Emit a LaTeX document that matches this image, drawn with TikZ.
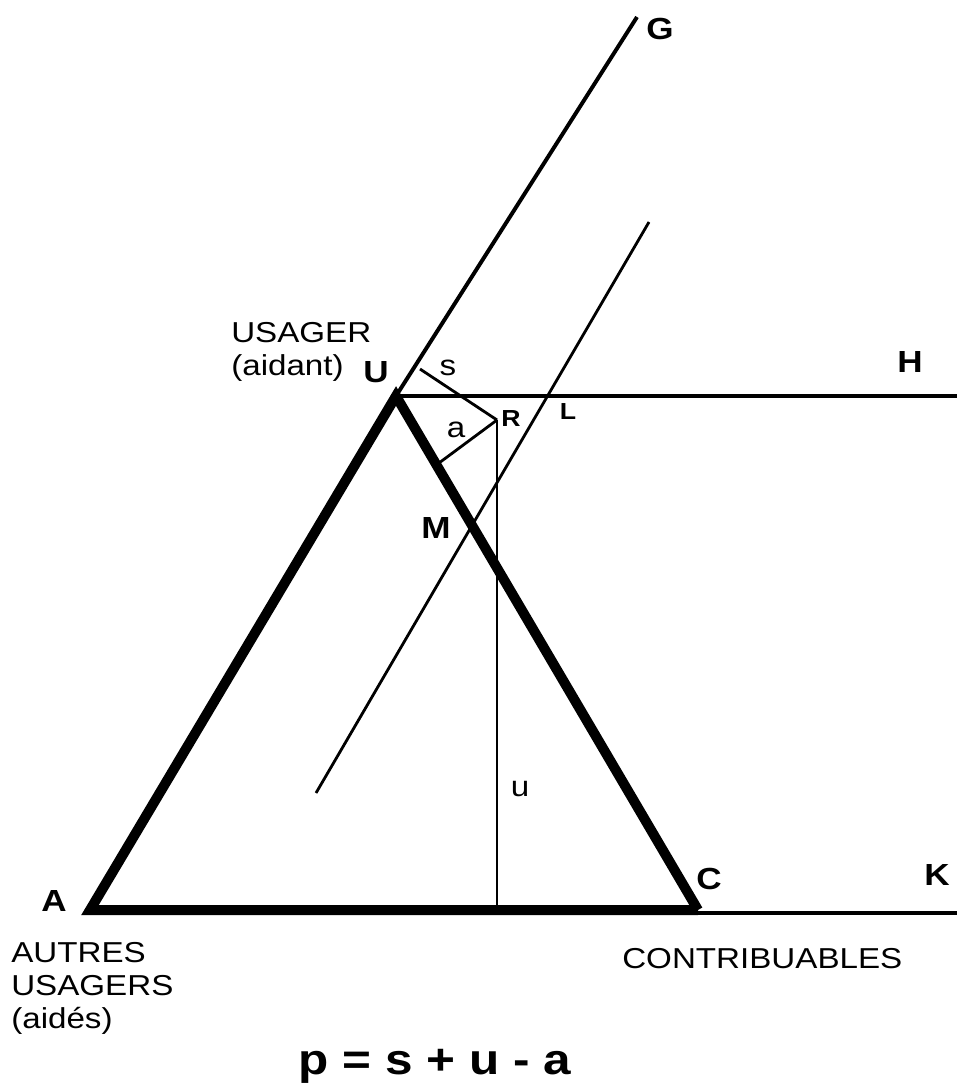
\documentclass[tikz,border=0pt]{standalone}
\usepackage{fontspec}
\setmainfont{Liberation Sans}[FakeStretch=1.15]
\usepackage{tikz}
\usetikzlibrary{calc}
\tikzset{
  sideline/.style={line width=7.1pt, line join=miter, line cap=butt},
  rayline/.style={line width=2.8pt},
  thinline/.style={line width=2pt},
  ptlabel/.style={inner sep=0pt, font=\fontsize{21.7}{26}\selectfont\bfseries},
  smallpt/.style={inner sep=0pt, font=\fontsize{16.5}{19}\selectfont\bfseries},
  seglabel/.style={inner sep=0pt, font=\fontsize{20.5}{23.5}\selectfont},
  roletext/.style={inner sep=0pt, anchor=north west, align=left,
    font=\fontsize{20.5}{23.5}\selectfont},
  formula/.style={inner sep=0pt, anchor=base, font=\fontsize{30.6}{36}\selectfont\bfseries}
}

\begin{document}
\begin{tikzpicture}[x=0.025cm, y=-0.025cm]
  \useasboundingbox (0,0) rectangle (957,1086);

  % points of the figure
  \coordinate (A) at (90,910);
  \coordinate (C) at (698,910);
  \coordinate (U) at (396,396);
  \coordinate (G) at (637,17);
  \coordinate (H) at (957,396);
  \coordinate (Cr) at (698,913);
  \coordinate (K) at (957,913);
  \coordinate (R) at (497,420);
  \coordinate (sfoot) at (420,369);
  \coordinate (afoot) at (439,463);
  \coordinate (ufoot) at (497,910);
  \coordinate (par1) at (316,793);
  \coordinate (par2) at (649,222);

  % rays and construction lines
  \draw[rayline] (U) -- (G);
  \draw[rayline] (U) -- (H);
  \draw[rayline] (Cr) -- (K);
  \draw[thinline] (R) -- (sfoot);
  \draw[thinline] (R) -- (afoot);
  \draw[thinline] (R) -- (ufoot);
  \draw[thinline] (par1) -- (par2);

  % triangle
  \draw[sideline] (C) -- (A) -- (U) -- (C);

  % point labels
  \node[ptlabel] (labG) at (660,29) {G};
  \node[ptlabel] (labU) at (376,372) {U};
  \node[ptlabel] (labH) at (910,362) {H};
  \node[ptlabel] (labM) at (436,528) {M};
  \node[ptlabel] (labA) at (54,901) {A};
  \node[ptlabel] (labC) at (709,879) {C};
  \node[ptlabel] (labK) at (937,875) {K};
  \node[smallpt] (labR) at (511,419) {R};
  \node[smallpt] (labL) at (568,412) {L};

  % distances
  \node[seglabel] (dists) at (448,368) {s};
  \node[seglabel] (dista) at (456,430) {a};
  \node[seglabel] (distu) at (520,789) {u};

  % roles
  \node[roletext] (aidant) at (231,322) {USAGER\\(aidant)};
  \node[roletext] (aides) at (11,942) {AUTRES\\USAGERS\\(aidés)};
  \node[roletext] (contrib) at (622,948) {CONTRIBUABLES};

  \node[formula] (eq) at (435,1074) {p = s + u - a};
\end{tikzpicture}
\end{document}
